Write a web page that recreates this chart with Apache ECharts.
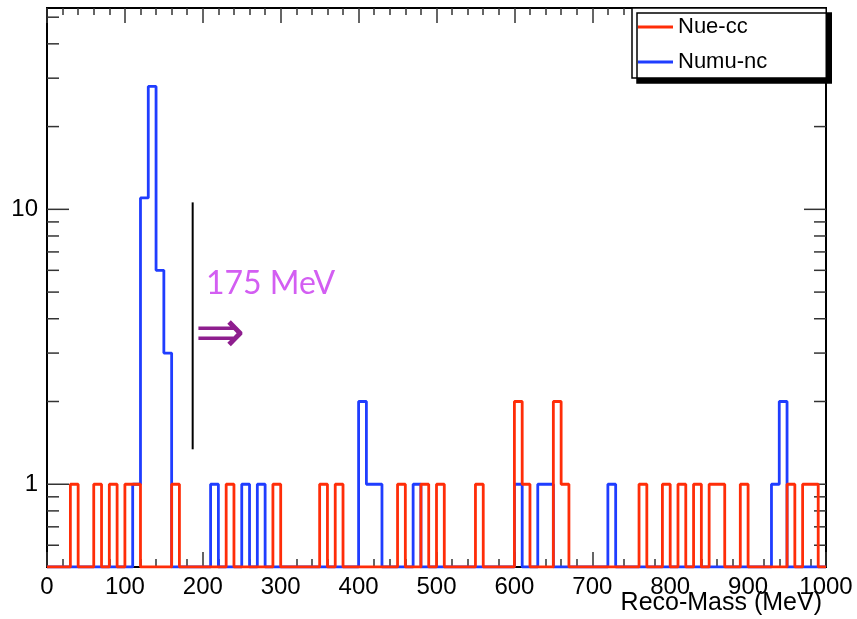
<!DOCTYPE html>
<html>
<head>
<meta charset="utf-8">
<script src="https://cdn.jsdelivr.net/npm/echarts@6/dist/echarts.min.js"></script>
<style>
  html, body { margin: 0; padding: 0; background: #fff; }
  #chart { width: 857px; height: 619px; }
</style>
</head>
<body>
<div id="chart"></div>
<script>
// 100 bins of 10 MeV, 0..1000 MeV
const binWidth = 10;
const nueCC = [
  0,0,0,1,0,0,1,0,1,0,
  1,1,0,0,0,0,1,0,0,0,
  0,0,0,1,0,0,0,0,0,1,
  0,0,0,0,0,1,0,1,0,0,
  0,0,0,0,0,1,0,0,1,0,
  1,0,0,0,0,1,0,0,0,0,
  2,1,0,0,0,2,1,0,0,0,
  0,0,0,0,0,0,1,0,0,1,
  0,1,0,1,0,1,1,0,0,1,
  0,0,0,0,0,1,0,1,1,0
];
const numuNC = [
  0,0,0,0,0,0,0,0,0,0,
  0,1,11,28,6,3,0,0,0,0,
  0,1,0,0,0,1,0,1,0,0,
  0,0,0,0,0,0,0,0,0,0,
  2,1,1,0,0,0,0,1,0,0,
  0,0,0,0,0,0,0,0,0,0,
  1,0,0,1,1,0,0,0,0,0,
  0,0,1,0,0,0,0,0,0,0,
  0,0,0,0,0,0,0,0,0,0,
  0,0,0,1,2,0,0,0,0,0
];
const xTickLabels = [0, 100, 200, 300, 400, 500, 600, 700, 800, 900, 1000];
const yMajorTicks = [1, 10];
const yMinorTicks = [0.6, 0.7, 0.8, 0.9, 2, 3, 4, 5, 6, 7, 8, 9, 20, 30, 40, 50];
const cutLine = [[187, 1.34], [187, 10.6]];

const yMin = 0.5, yMax = 54;

// histogram -> step points at bin edges (empty bins sit on the frame)
function steps(counts) {
  const pts = counts.map((c, i) => [i * binWidth, Math.max(c, yMin)]);
  pts.push([counts.length * binWidth, Math.max(counts[counts.length - 1], yMin)]);
  return pts;
}

const yTicks = yMajorTicks.map(v => [v, 1]).concat(yMinorTicks.map(v => [v, 0]));

const chart = echarts.init(document.getElementById('chart'));
const tickStyle = { color: '#333', width: 1.5 };
const helv = 'Liberation Sans, Arial, sans-serif';

chart.setOption({
  animation: false,
  textStyle: { fontFamily: helv },
  grid: {
    left: 47, right: 31, top: 8, bottom: 52,
    show: true, borderColor: '#000', borderWidth: 2, backgroundColor: '#fff'
  },
  legend: {
    data: ['Nue-cc', 'Numu-nc'],
    orient: 'vertical',
    left: 632, top: 8,
    padding: [8, 59, 5, 6],
    itemGap: 13,
    itemWidth: 35, itemHeight: 3,
    icon: 'rect',
    backgroundColor: '#fff',
    borderColor: '#000', borderWidth: 1.5,
    shadowColor: '#000', shadowBlur: 0, shadowOffsetX: 5, shadowOffsetY: 5,
    textStyle: { fontSize: 22, color: '#000', fontFamily: helv }
  },
  xAxis: [{
    type: 'value', min: 0, max: 1000, interval: 100,
    axisLine: { show: false },
    axisTick: { show: true, inside: true, length: 15, lineStyle: tickStyle },
    minorTick: { show: true, splitNumber: 5, length: 8, lineStyle: tickStyle },
    splitLine: { show: false },
    axisLabel: {
      fontSize: 24, color: '#000', margin: 8,
      formatter: v => xTickLabels.indexOf(v) >= 0 ? String(v) : ''
    }
  }, {
    type: 'value', min: 0, max: 1000, interval: 100, position: 'top',
    axisLine: { show: false },
    axisTick: { show: true, inside: true, length: 15, lineStyle: tickStyle },
    minorTick: { show: true, splitNumber: 5, length: 7, lineStyle: tickStyle },
    splitLine: { show: false },
    axisLabel: { show: false }
  }],
  yAxis: {
    type: 'log', logBase: 10, min: yMin, max: yMax,
    axisLine: { show: false },
    axisTick: { show: false },
    splitLine: { show: false },
    minorTick: { show: false },
    axisLabel: {
      fontSize: 24, color: '#000', margin: 9,
      formatter: v => yMajorTicks.some(t => Math.abs(t - v) < 1e-6) ? String(v) : ''
    }
  },
  graphic: [
    { type: 'text', right: 35, top: 591, style: { text: 'Reco-Mass (MeV)', fontSize: 25, fontFamily: helv, fill: '#000' } },
    { type: 'text', left: 206, top: 268, style: { text: '175 MeV', fontSize: 32, fontFamily: 'Lato, sans-serif', fill: '#d35ef2' } },
    { type: 'text', left: 195, top: 306, style: { text: '\u21D2', fontSize: 60, fontFamily: 'DejaVu Sans, sans-serif', fill: '#8e1e8e' } }
  ],
  series: [
    {
      name: 'Numu-nc', type: 'line', step: 'end', symbol: 'none',
      color: '#1f3dff', lineStyle: { width: 2.8 },
      data: steps(numuNC)
    },
    {
      name: 'Nue-cc', type: 'line', step: 'end', symbol: 'none',
      color: '#ff2d08', lineStyle: { width: 2.8 },
      data: steps(nueCC)
    },
    {
      name: 'cut', type: 'line', symbol: 'none',
      color: '#000', lineStyle: { width: 2 },
      data: cutLine
    },
    {
      name: 'yticks', type: 'custom', encode: { x: 1, y: 0 },
      data: yTicks,
      renderItem: function (params, api) {
        const v = api.value(0);
        const len = api.value(1) ? 22 : 12;
        const l = api.coord([0, v]);
        const r = api.coord([1000, v]);
        return {
          type: 'group',
          children: [
            { type: 'line', shape: { x1: l[0], y1: l[1], x2: l[0] + len, y2: l[1] }, style: { stroke: '#333', lineWidth: 1.5 } },
            { type: 'line', shape: { x1: r[0], y1: r[1], x2: r[0] - len, y2: r[1] }, style: { stroke: '#333', lineWidth: 1.5 } }
          ]
        };
      }
    }
  ]
});
</script>
</body>
</html>
